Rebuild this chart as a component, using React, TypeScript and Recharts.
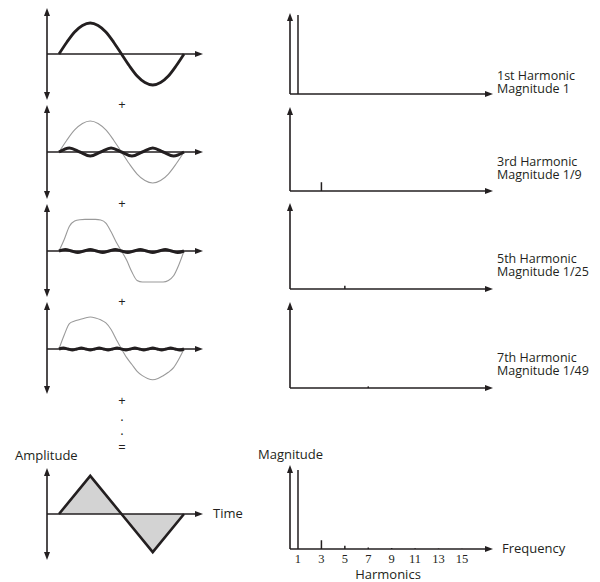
import React from 'react';
import { ComposedChart, Line, Area, XAxis, YAxis, ReferenceLine } from 'recharts';

const ink = '#231f20';
const grey = '#9a9a9a';
const sans = '"Open Sans", sans-serif';
const serif = '"Liberation Serif", serif';

// left column: samples over one period of the fundamental
const fundamental = [0, 0.38, 0.71, 0.92, 1, 0.92, 0.71, 0.38, 0, -0.38, -0.71, -0.92, -1, -0.92, -0.71, -0.38, 0];
const third = [0, 0.13, 0, -0.13, 0, 0.13, 0, -0.13, 0, 0.13, 0, -0.13, 0];
const fifth = [0, 0.05, 0, -0.05, 0, 0.05, 0, -0.05, 0, 0.05, 0, -0.05, 0, 0.05, 0, -0.05, 0, 0.05, 0, -0.05, 0];
const seventh = [
  0, 0.035, 0, -0.035, 0, 0.035, 0, -0.035, 0, 0.035, 0, -0.035, 0, 0.035, 0,
  -0.035, 0, 0.035, 0, -0.035, 0, 0.035, 0, -0.035, 0, 0.035, 0, -0.035, 0,
];
const sum13 = [
  0, 0.37, 0.8, 0.97, 1.01, 1.02, 1.02, 1.02, 1.0, 0.9, 0.62, 0.28, 0,
  -0.3, -0.68, -0.95, -1.0, -1.0, -1.0, -1.0, -1.0, -0.95, -0.8, -0.45, 0,
];
const sum135 = [
  0, 0.45, 0.82, 0.9, 0.95, 1.0, 1.03, 1.0, 0.94, 0.84, 0.63, 0.31, 0,
  -0.28, -0.5, -0.72, -0.86, -0.95, -0.99, -0.95, -0.86, -0.75, -0.6, -0.33, 0,
];
const triangle = [0, 1.23, 0, -1.23, 0];

// right column: spectrum
const harmonics = [1, 3, 5, 7, 9, 11, 13, 15];
const magnitudes = [1, 1 / 9, 1 / 25, 1 / 49, 1 / 81, 1 / 121, 1 / 169, 1 / 225];
const harmonicNames = ['1st Harmonic', '3rd Harmonic', '5th Harmonic', '7th Harmonic'];
const magnitudeNames = ['Magnitude 1', 'Magnitude 1/9', 'Magnitude 1/25', 'Magnitude 1/49'];

const toSeries = (vals: number[]) => vals.map((v, i) => ({ t: i / (vals.length - 1), v }));
const spikeSeries = (idx: number[]) =>
  idx.flatMap((i) => [
    { h: harmonics[i], m: 0 },
    { h: harmonics[i], m: magnitudes[i] },
    { h: harmonics[i], m: null },
  ]);

const T_DOMAIN = [-0.096, 1.152];
const H_DOMAIN = [0.317, 17.65];
const WAVE_PX = 31;
const MAG_PX = 79;

function arrow(both: boolean) {
  return (p: any) => {
    const { x1, y1, x2, y2 } = p;
    const dx = x2 - x1;
    const dy = y2 - y1;
    const len = Math.hypot(dx, dy) || 1;
    const ux = dx / len;
    const uy = dy / len;
    const L = 8;
    const W = 3;
    const head = (tx: number, ty: number, sx: number, sy: number) => {
      const bx = tx - sx * L;
      const by = ty - sy * L;
      return `${tx},${ty} ${bx - sy * W},${by + sx * W} ${bx + sy * W},${by - sx * W}`;
    };
    return (
      <g>
        <line
          x1={both ? x1 + ux * (L - 1) : x1}
          y1={both ? y1 + uy * (L - 1) : y1}
          x2={x2 - ux * (L - 1)}
          y2={y2 - uy * (L - 1)}
          stroke={ink}
          strokeWidth={1.6}
        />
        <polygon points={head(x2, y2, ux, uy)} fill={ink} />
        {both && <polygon points={head(x1, y1, -ux, -uy)} fill={ink} />}
      </g>
    );
  };
}

function WaveChart({ top, axis, bottom, children }: any) {
  const pad = 5;
  const yDomain = [-(bottom - axis) / WAVE_PX, (axis - top) / WAVE_PX];
  return (
    <div style={{ position: 'absolute', left: 40, top: top - pad }}>
      <ComposedChart width={170} height={bottom - top + 2 * pad} margin={{ top: pad, right: 7, bottom: pad, left: 7 }}>
        <XAxis type="number" dataKey="t" domain={T_DOMAIN} hide allowDataOverflow />
        <YAxis type="number" domain={yDomain} hide allowDataOverflow />
        {children}
        <ReferenceLine
          segment={[{ x: T_DOMAIN[0], y: yDomain[0] }, { x: T_DOMAIN[0], y: yDomain[1] }]}
          shape={arrow(true)}
          ifOverflow="visible"
        />
        <ReferenceLine
          segment={[{ x: T_DOMAIN[0], y: 0 }, { x: T_DOMAIN[1], y: 0 }]}
          shape={arrow(false)}
          ifOverflow="visible"
        />
      </ComposedChart>
    </div>
  );
}

function SpectrumChart({ top, axis, spikes, showTicks }: any) {
  const pad = 5;
  const yMax = (axis - top) / MAG_PX;
  return (
    <div style={{ position: 'absolute', left: 283, top: top - pad }}>
      <ComposedChart
        width={217}
        height={axis - top + pad + (showTicks ? 22 : pad)}
        margin={{ top: pad, right: 7, bottom: showTicks ? 0 : pad, left: 7 }}
      >
        <XAxis
          type="number"
          dataKey="h"
          domain={H_DOMAIN}
          ticks={harmonics}
          interval={0}
          hide={!showTicks}
          axisLine={false}
          tickLine={false}
          height={22}
          tickSize={3}
          tick={{ fontSize: 12.5, fill: ink, fontFamily: serif }}
          allowDataOverflow
        />
        <YAxis type="number" domain={[0, yMax]} hide allowDataOverflow />
        <Line
          data={spikeSeries(spikes)}
          dataKey="m"
          type="linear"
          stroke={ink}
          strokeWidth={1.5}
          dot={false}
          activeDot={false}
          isAnimationActive={false}
        />
        <ReferenceLine
          segment={[{ x: H_DOMAIN[0], y: 0 }, { x: H_DOMAIN[0], y: yMax }]}
          shape={arrow(false)}
          ifOverflow="visible"
        />
        <ReferenceLine
          segment={[{ x: H_DOMAIN[0], y: 0 }, { x: H_DOMAIN[1], y: 0 }]}
          shape={arrow(false)}
          ifOverflow="visible"
        />
      </ComposedChart>
    </div>
  );
}

function Text({ x, y, children, size = 13, font = sans, center = false, lh = 14 }: any) {
  return (
    <div
      style={{
        position: 'absolute',
        left: center ? x - 50 : x,
        width: center ? 100 : undefined,
        textAlign: center ? 'center' : 'left',
        top: y - lh / 2,
        lineHeight: `${lh}px`,
        fontSize: size,
        fontFamily: font,
        color: ink,
        whiteSpace: 'nowrap',
      }}
    >
      {children}
    </div>
  );
}

const leftRows = [
  { top: 8, axis: 54, bottom: 100, light: null, dark: fundamental },
  { top: 105, axis: 152, bottom: 199, light: fundamental, dark: third },
  { top: 204, axis: 251, bottom: 297, light: sum13, dark: fifth },
  { top: 302, axis: 349, bottom: 394, light: sum135, dark: seventh },
];
const rightRows = [
  { top: 13, axis: 94, label: 75 },
  { top: 107, axis: 191, label: 161 },
  { top: 203, axis: 289, label: 258 },
  { top: 302, axis: 388, label: 357 },
];

export default function App() {
  return (
    <div style={{ position: 'absolute', left: 0, top: 0, width: 600, height: 582, background: '#fff', overflow: 'hidden' }}>
      {leftRows.map((r, i) => (
        <WaveChart key={i} top={r.top} axis={r.axis} bottom={r.bottom}>
          {r.light && (
            <Line
              data={toSeries(r.light)}
              dataKey="v"
              type="monotone"
              stroke={grey}
              strokeWidth={1.1}
              dot={false}
              activeDot={false}
              isAnimationActive={false}
            />
          )}
          <Line
            data={toSeries(r.dark)}
            dataKey="v"
            type="monotone"
            stroke={ink}
            strokeWidth={i === 0 ? 2.8 : 3}
            dot={false}
            activeDot={false}
            isAnimationActive={false}
          />
        </WaveChart>
      ))}
      <WaveChart top={468} axis={514} bottom={560}>
        <Area
          data={toSeries(triangle)}
          dataKey="v"
          type="linear"
          baseValue={0}
          stroke={ink}
          strokeWidth={2.6}
          fill="#d3d3d3"
          fillOpacity={1}
          dot={false}
          activeDot={false}
          isAnimationActive={false}
        />
      </WaveChart>

      {rightRows.map((r, i) => (
        <React.Fragment key={i}>
          <SpectrumChart top={r.top} axis={r.axis} spikes={[i]} />
          <Text x={497} y={r.label} size={12.5} lh={13}>
            {harmonicNames[i]}
            <br />
            {magnitudeNames[i]}
          </Text>
        </React.Fragment>
      ))}
      <SpectrumChart top={465} axis={549} spikes={harmonics.map((_, i) => i)} showTicks />

      {[104, 203, 301, 400].map((y) => (
        <Text key={y} x={122} y={y} center>+</Text>
      ))}
      <Text x={122} y={416} center>.</Text>
      <Text x={122} y={430} center>.</Text>
      <Text x={122} y={447} center>=</Text>

      <Text x={15} y={455}>Amplitude</Text>
      <Text x={213} y={513}>Time</Text>
      <Text x={258} y={454}>Magnitude</Text>
      <Text x={502} y={548}>Frequency</Text>
      <Text x={388} y={574} center lh={12}>Harmonics</Text>
    </div>
  );
}
